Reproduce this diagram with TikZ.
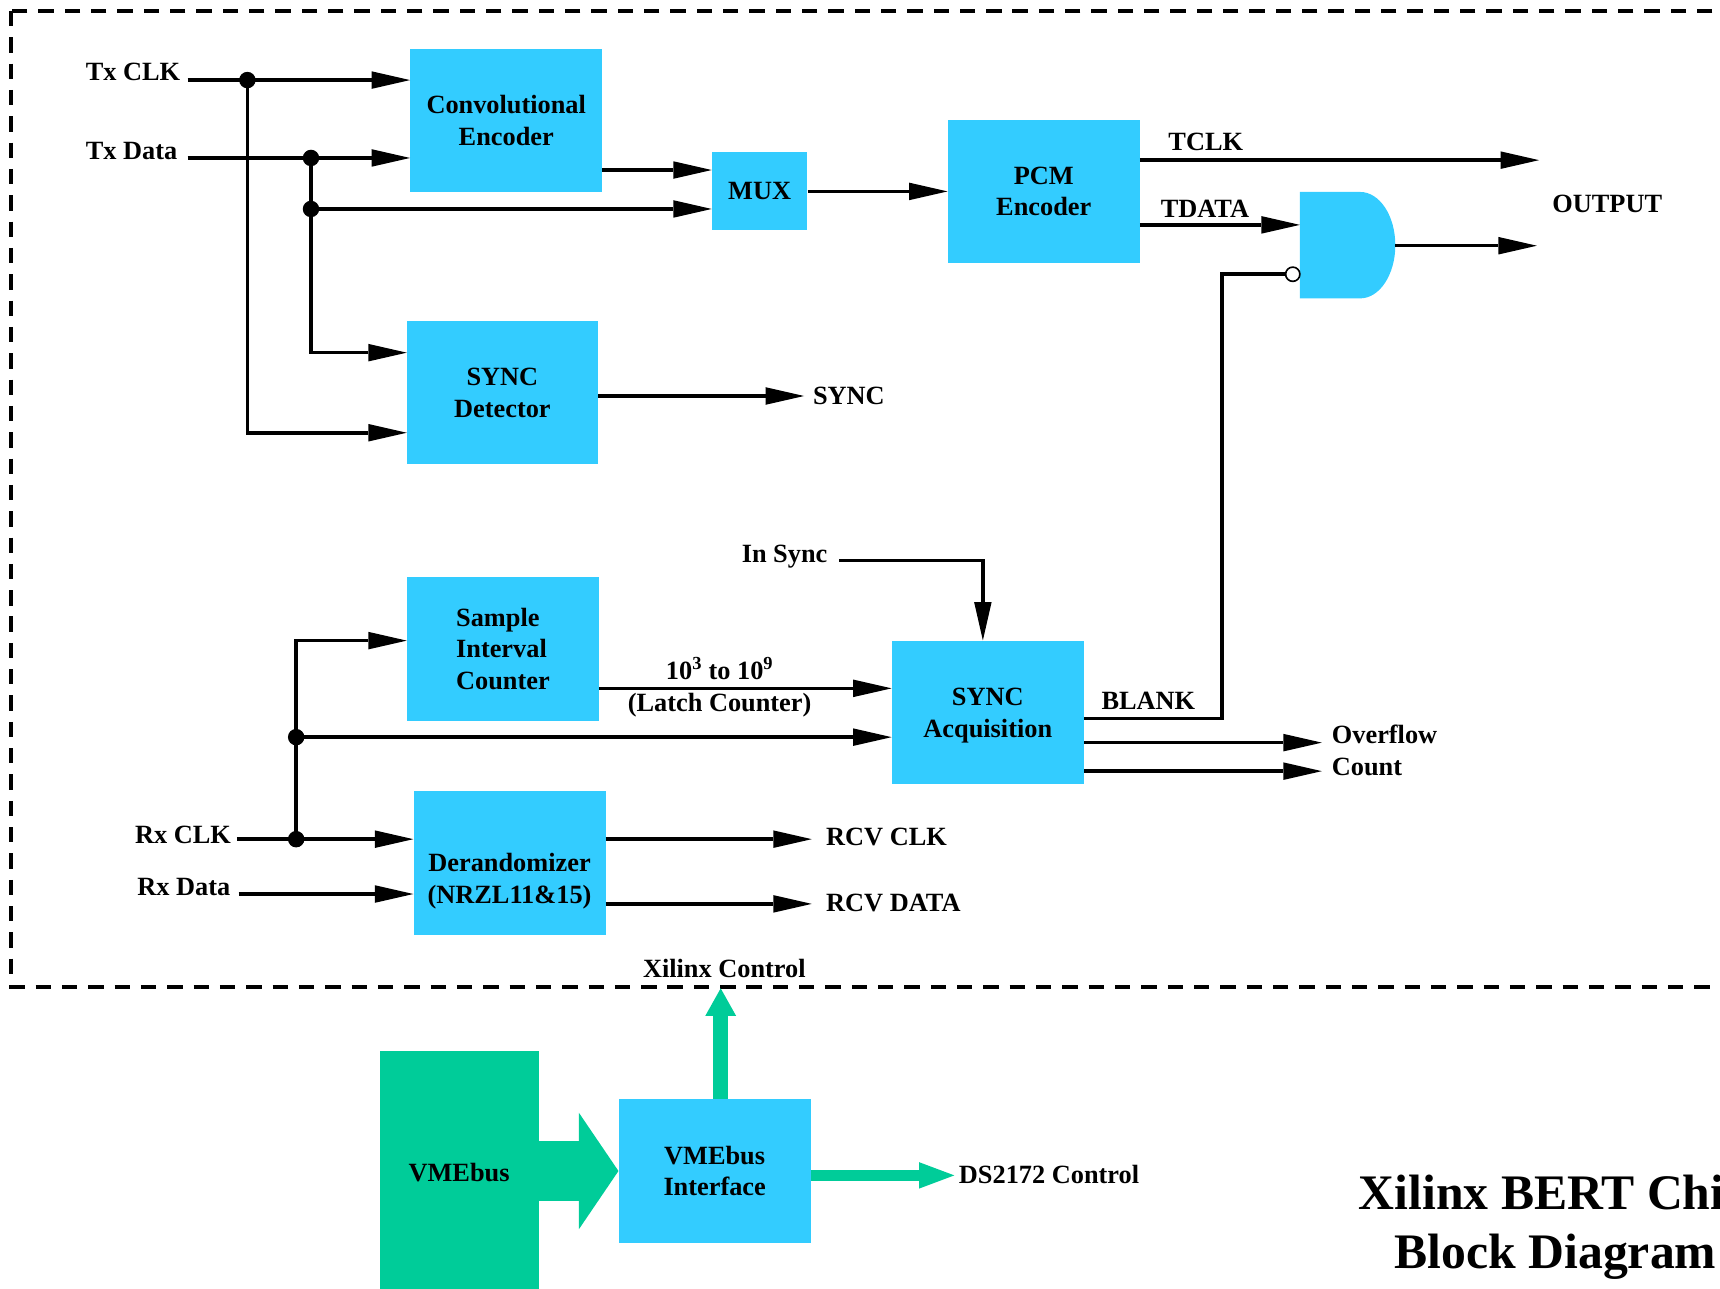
\documentclass[tikz,border=0pt]{standalone}
\usepackage{fontspec}
\setmainfont{Liberation Serif}
\usetikzlibrary{arrows.meta}
\definecolor{boxc}{HTML}{33CCFF}
\definecolor{grn}{HTML}{00CC99}
\begin{document}
\begin{tikzpicture}[x=1pt,y=-1pt,
  txt/.style={font=\fontsize{24}{29}\selectfont\bfseries},
  lbl/.style={txt, inner sep=0pt, anchor=base west},
  clbl/.style={txt, inner sep=0pt, anchor=base},
  blk/.style={txt, fill=boxc, draw=none, minimum width=175pt, minimum height=131pt, inner sep=0pt, align=center},
  wire/.style={line width=3.2pt},
  sig/.style={line width=3.2pt, -{Triangle[length=35pt,width=16pt,line width=0pt]}},
  jdot/.style={circle, fill=black, minimum size=15pt, inner sep=0pt},
]
\path[use as bounding box, clip] (0,0) rectangle (1568,1175);

% dashed frame
\draw[line width=3.5pt, dash pattern=on 14pt off 10pt] (10,10) rectangle (1600,899.5);

% blocks
\node[blk, minimum height=130pt] (conv) at (461.5,110) {Convolutional\\Encoder};
\node[blk, minimum width=87pt, minimum height=71pt] (mux) at (692.5,174.5) {MUX};
\node[blk] (pcm) at (951.5,174.5) {PCM\\Encoder};
\node[blk, minimum width=174pt, minimum height=130pt] (syncdet) at (458,358) {SYNC\\Detector};
\node[blk, align=left] (sic) at (458.5,591.5) {Sample\\Interval\\Counter};
\node[blk] (syncacq) at (900.5,649.5) {};
\node[txt, align=center, inner sep=0pt] (syncacqtxt) at (900.5,652.5) {SYNC\\Acquisition};
\node[blk] (derand) at (464.5,786.5) {};
\node[txt, align=center, inner sep=0pt] (derandtxt) at (464.5,803) {Derandomizer\\(NRZL11\&15)};
\node[blk] (vmei) at (651.5,1067.5) {VMEbus\\Interface};
\node[blk, fill=grn, minimum width=145pt, minimum height=222pt] (vme) at (418.5,1069) {VMEbus};

% AND gate
\fill[boxc] (1185,175) -- (1240,175) arc[start angle=90,end angle=-90,x radius=32pt,y radius=48.5pt] -- (1185,272) -- cycle;
\coordinate (ga) at (1185,205);
\coordinate (gout) at (1272,224);
\coordinate (oe) at (1401,224);
\node[circle, draw, fill=white, line width=1.5pt, minimum size=13pt, inner sep=0pt] (bub) at (1178.5,250) {};

% labels
\node[lbl] (ltxclk) at (78,73) {Tx CLK};
\node[lbl] (ltxdata) at (78,145) {Tx Data};
\node[lbl] (lsync) at (741,369) {SYNC};
\node[lbl] (ltclk) at (1065,137) {TCLK};
\node[lbl] (ltdata) at (1058,198) {TDATA};
\node[lbl] (lout) at (1415,194) {OUTPUT};
\node[lbl] (linsync) at (676,513) {In Sync};
\node[lbl] (lblank) at (1004,647) {BLANK};
\node[lbl] (lover) at (1214,678) {Overflow};
\node[lbl] (lcount) at (1214,707) {Count};
\node[lbl] (lrxclk) at (123,769) {Rx CLK};
\node[lbl] (lrxdata) at (125,816) {Rx Data};
\node[lbl] (lrcvclk) at (753,771) {RCV CLK};
\node[lbl] (lrcvdata) at (753,831) {RCV DATA};
\node[lbl] (lxil) at (586,891) {Xilinx Control};
\node[lbl] (lds) at (874,1079) {DS2172 Control};
\node[clbl] (lpow) at (656,619) {10\textsuperscript{3} to 10\textsuperscript{9}};
\node[clbl] (llatch) at (656,649) {(Latch Counter)};
\node[font=\fontsize{45.3}{54}\selectfont\bfseries, align=center, inner sep=0pt] (title) at (1418,1119) {Xilinx BERT Chip\\Block Diagram};

% transmit side
\coordinate (txc) at (171,73);
\coordinate (txd) at (171,144);
\node[jdot] (j1) at (225.5,73) {};
\node[jdot] (j2) at (283.5,144) {};
\node[jdot] (j2b) at (283.5,190.5) {};
\coordinate (sd1) at (0,321.5);
\coordinate (sd2) at (0,394.5);
\coordinate (cm) at (0,155);
\draw[sig] (txc) -- (conv.west |- txc);
\draw[sig] (j1.center) |- (syncdet.west |- sd2);
\draw[sig] (txd) -- (conv.west |- txd);
\draw[wire] (j2.center) -- (j2b.center);
\draw[sig] (j2b.center) -- (mux.west |- j2b);
\draw[sig] (j2b.center) |- (syncdet.west |- sd1);
\draw[sig] (conv.east |- cm) -- (mux.west |- cm);
\draw[sig] (mux.east) -- (pcm.west);
\coordinate (tc) at (1403,146);
\draw[sig] (pcm.east |- tc) -- (tc);
\draw[sig] (pcm.east |- ga) -- (ga);
\draw[sig] (gout) -- (oe);
\coordinate (so) at (733,361);
\draw[sig] (syncdet.east |- so) -- (so);

% receive side
\coordinate (is1) at (765,511);
\coordinate (is2) at (896,511);
\draw[sig] (is1) -- (is2) -- (is2 |- syncacq.north);
\coordinate (lc) at (0,627.5);
\draw[sig] (sic.east |- lc) -- (syncacq.west |- lc);
\coordinate (bk) at (1114,655);
\draw[wire] (syncacq.east |- bk) -- (bk) |- (bub.west);
\coordinate (ov) at (1205,677);
\coordinate (cn) at (1205,703);
\draw[sig] (syncacq.east |- ov) -- (ov);
\draw[sig] (syncacq.east |- cn) -- (cn);

\coordinate (rxc) at (216,765);
\coordinate (rxd) at (217.5,815);
\node[jdot] (j3) at (270,765) {};
\node[jdot] (j4) at (270,672) {};
\coordinate (t4) at (270,584);
\draw[sig] (rxc) -- (derand.west |- rxc);
\draw[sig] (j3.center) -- (t4) -- (sic.west |- t4);
\draw[sig] (j4.center) -- (syncacq.west |- j4);
\draw[sig] (rxd) -- (derand.west |- rxd);
\coordinate (rc) at (740,765);
\coordinate (rd) at (740,824);
\draw[sig] (derand.east |- rc) -- (rc);
\draw[sig] (derand.east |- rd) -- (rd);

% VMEbus arrows
\coordinate (xc) at (657,901);
\draw[draw=grn, line width=14pt, -{Triangle[length=25pt,width=28pt,line width=0pt]}] (xc |- vmei.north) -- (xc);
\coordinate (ds) at (870,1071.5);
\draw[draw=grn, line width=10.5pt, -{Triangle[length=32pt,width=24pt,line width=0pt]}] (vmei.east |- ds) -- (ds);
\draw[draw=grn, line width=54pt, -{Triangle[length=36pt,width=106pt,line width=0pt]}] (vme.east |- vmei.west) -- (vmei.west);
\end{tikzpicture}
\end{document}
